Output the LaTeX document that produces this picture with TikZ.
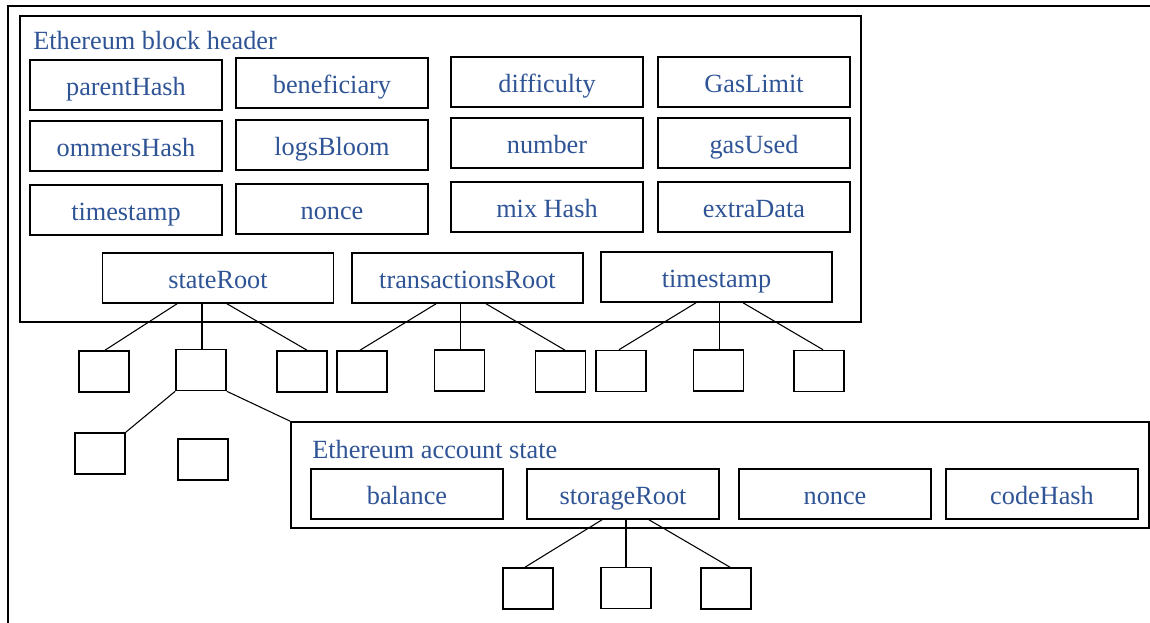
\documentclass[tikz,border=0pt]{standalone}
\usepackage{fontspec}
\setmainfont{Liberation Serif}
\definecolor{txtblue}{RGB}{47,84,150}
\tikzset{
  frame/.style={draw=black, line width=1.2pt},
  outer/.style={draw=black, line width=1.5pt},
  fld/.style={draw=black, line width=1.2pt, inner sep=0pt, minimum width=144pt, minimum height=37.5pt,
    text height=18pt, text depth=1.5pt, font=\fontsize{19.7pt}{22pt}\selectfont, text=txtblue},
  rootbox/.style={fld, minimum width=173pt},
  leaf/.style={draw=black, line width=1.2pt, inner sep=0pt, minimum width=37.5pt, minimum height=30.75pt},
  title/.style={anchor=base west, inner sep=0pt, font=\fontsize{19.7pt}{22pt}\selectfont, text=txtblue},
  conn/.style={draw=black, line width=0.8pt}
}
\begin{document}
\begin{tikzpicture}[x=0.75pt, y=-0.75pt]
\useasboundingbox (0,0) rectangle (1150,623);
% outer frame (cut at right and bottom)
\draw[outer] (7.5,623) -- (7.5,6.5) -- (1150,6.5);
% block header container
\node[frame, inner sep=0pt, minimum width=630.75pt, minimum height=229.5pt] (hdr) at (440.5,169) {};
\node[title] (hdrtitle) at (33,50) {Ethereum block header};
% header fields
\node[fld] (parentHash) at (126,85) {parentHash};
\node[fld] (beneficiary) at (332,83) {beneficiary};
\node[fld] (difficulty) at (547,82) {difficulty};
\node[fld] (gasLimit) at (754,82) {GasLimit};
\node[fld] (ommersHash) at (126,146) {ommersHash};
\node[fld] (logsBloom) at (332,145) {logsBloom};
\node[fld] (number) at (547,143) {number};
\node[fld] (gasUsed) at (754,143) {gasUsed};
\node[fld] (timestampA) at (126,210) {timestamp};
\node[fld] (nonceA) at (332,209) {nonce};
\node[fld] (mixHash) at (547,207) {mix Hash};
\node[fld] (extraData) at (754,207) {extraData};
% roots
\node[rootbox] (sr) at (218,278) {stateRoot};
\node[rootbox] (tr) at (467.5,278) {transactionsRoot};
\node[rootbox] (ts) at (716.5,277) {timestamp};
% leaves
\node[leaf] (s1) at (104,371.5) {};
\node[leaf] (s2) at (201,370) {};
\node[leaf] (s3) at (302,371.5) {};
\node[leaf] (t1) at (362,371.5) {};
\node[leaf] (t2) at (459.5,370.5) {};
\node[leaf] (t3) at (560.5,371.5) {};
\node[leaf] (m1) at (621,371) {};
\node[leaf] (m2) at (718.5,370.5) {};
\node[leaf] (m3) at (819,371) {};
\node[leaf] (u1) at (100,453.5) {};
\node[leaf] (u2) at (203,459.5) {};
% account state
\node[frame, inner sep=0pt, minimum width=643.5pt, minimum height=79.5pt] (acc) at (720,475) {};
\node[title] (acctitle) at (312,459) {Ethereum account state};
\node[fld] (balance) at (407,494) {balance};
\node[fld] (storageRoot) at (623,494) {storageRoot};
\node[fld] (nonceB) at (835,494) {nonce};
\node[fld] (codeHash) at (1042,494) {codeHash};
\node[leaf] (g1) at (528,588.5) {};
\node[leaf] (g2) at (626,588) {};
\node[leaf] (g3) at (726,588.5) {};
% connectors
\draw[conn] ([xshift=-30.75pt]sr.south) -- ([xshift=0.75pt]s1.north);
\draw[conn] ([xshift=-12pt]sr.south) -- ([xshift=0.75pt]s2.north);
\draw[conn] ([xshift=6.75pt]sr.south) -- ([xshift=3.75pt]s3.north);
\draw[conn] ([xshift=-23.6pt]tr.south) -- ([xshift=-1.5pt]t1.north);
\draw[conn] ([xshift=-5.6pt]tr.south) -- ([xshift=0.4pt]t2.north);
\draw[conn] ([xshift=13.9pt]tr.south) -- ([xshift=3.4pt]t3.north);
\draw[conn] ([xshift=-15.4pt]ts.south) -- ([xshift=-1.5pt]m1.north);
\draw[conn] ([xshift=1.9pt]ts.south) -- ([xshift=0.4pt]m2.north);
\draw[conn] ([xshift=19.9pt]ts.south) -- ([xshift=3pt]m3.north);
\draw[conn] (s2.south west) -- (u1.north east);
\draw[conn] (s2.south east) -- (acc.north west);
\draw[conn] ([xshift=-15.75pt]storageRoot.south) -- ([xshift=-2.25pt]g1.north);
\draw[conn] ([xshift=2.25pt]storageRoot.south) -- (g2.north);
\draw[conn] ([xshift=19.5pt]storageRoot.south) -- ([xshift=3pt]g3.north);
\end{tikzpicture}
\end{document}
